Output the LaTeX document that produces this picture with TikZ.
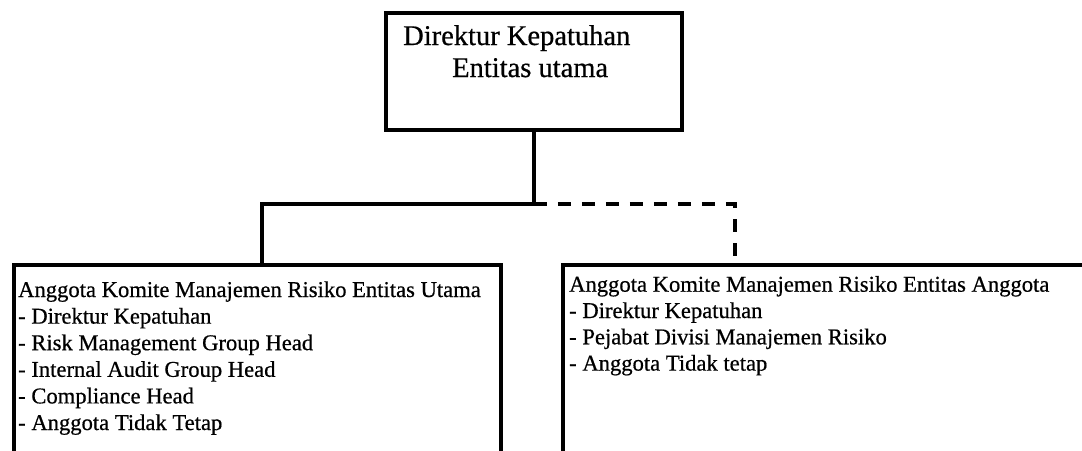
\documentclass[tikz,border=0pt]{standalone}
\usepackage{fontspec}
\setmainfont{Liberation Serif}[FakeBold=0.6]
\begin{document}
\begin{tikzpicture}[x=1pt,y=-1pt,
  box/.style={draw=black, line width=4pt, inner sep=0pt, anchor=north west},
  conn/.style={draw=black, line width=4pt},
  dashconn/.style={conn, dash pattern=on 13pt off 11pt},
  toptext/.style={anchor=base west, inner sep=0pt, font=\fontsize{28.5}{30}\selectfont},
  boxtext/.style={anchor=base west, inner sep=0pt, font=\fontsize{22.6}{26}\selectfont}]
\useasboundingbox (0,0) rectangle (1082,450);
\clip (0,0) rectangle (1082,450);
% boxes
\node[box, minimum width=296.5pt, minimum height=116.5pt] (top) at (383.5,11) {};
\node[box, minimum width=487pt, minimum height=220pt] (lbox) at (12,262.5) {};
\node[box, minimum width=560pt, minimum height=220pt] (rbox) at (560.5,262.5) {};
% junction coordinates
\coordinate (j) at (top.south |- 0,204);
\coordinate (lt) at (262,262.5);
\coordinate (rt) at (734.7,262.5);
% connectors
\draw[conn] (top.south) -- (j);
\draw[conn, line join=miter] (j) -| (lt);
\draw[dashconn] (j) -| (rt);
% top text
\node[toptext] (t1) at (403,45) {Direktur Kepatuhan};
\node[toptext] (t2) at (452,77) {Entitas utama};
% left box text
\node[boxtext] (l1) at (18,297) {Anggota Komite Manajemen Risiko Entitas Utama};
\node[boxtext] (l2) at (18,323.6) {- Direktur Kepatuhan};
\node[boxtext] (l3) at (18,350.2) {- Risk Management Group Head};
\node[boxtext] (l4) at (18,376.8) {- Internal Audit Group Head};
\node[boxtext] (l5) at (18,403.4) {- Compliance Head};
\node[boxtext] (l6) at (18,430) {- Anggota Tidak Tetap};
% right box text
\node[boxtext] (r1) at (569,291.7) {Anggota Komite Manajemen Risiko Entitas Anggota};
\node[boxtext] (r2) at (569,318) {- Direktur Kepatuhan};
\node[boxtext] (r3) at (569,344.3) {- Pejabat Divisi Manajemen Risiko};
\node[boxtext] (r4) at (569,370.6) {- Anggota Tidak tetap};
\end{tikzpicture}
\end{document}
